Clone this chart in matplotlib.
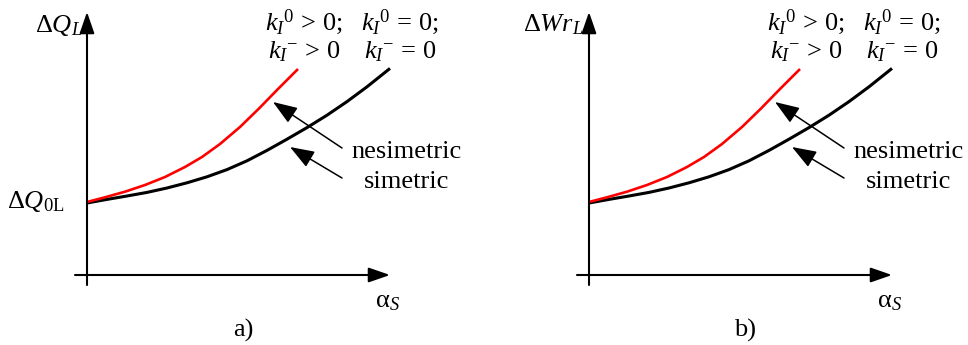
import matplotlib
matplotlib.use("Agg")
import matplotlib.pyplot as plt

plt.rcParams['font.family'] = ['Liberation Serif', 'DejaVu Serif']
plt.rcParams['mathtext.fontset'] = 'custom'
plt.rcParams['mathtext.rm'] = 'Liberation Serif'
plt.rcParams['mathtext.it'] = 'Liberation Serif:italic'
plt.rcParams['mathtext.bf'] = 'Liberation Serif:bold'

# curve shapes (origin = axes crossing, y up)
red_x = [0, 18, 38, 58, 78, 98, 115, 133, 153, 172, 191, 211]
red_y = [73, 77.7, 83.3, 90, 98, 108, 118, 131, 148, 166.5, 186, 206]
black_x = [0, 20, 40, 60, 80, 100, 120, 140, 160, 180, 200, 220, 240, 260, 280, 303]
black_y = [72, 75.6, 79, 82.6, 87, 92.2, 98.2, 105.4, 114.2, 124.6, 135.8, 147.4,
           159.8, 173.4, 188.2, 206.6]

panels = ['a)', 'b)']
ylabels = [r'$\Delta Q_L$', r'$\Delta Wr_L$']
intercept_labels = [r'$\Delta Q_{\mathrm{0L}}$', '']
cond_left = [r'$k_I{}^0\,>\,0$;', r'$k_I{}^{-}\,>\,0$']
cond_right = [r'$k_I{}^0\,=\,0$;', r'$k_I{}^{-}\,=\,0$']

FS = 19
LW_AX = 1.5


def arrow(ax, start, end, lw, hl, hw):
    ax.annotate('', xy=end, xytext=start,
                arrowprops=dict(arrowstyle=f'-|>,head_length={hl},head_width={hw}',
                                lw=lw, color='black', shrinkA=0, shrinkB=0,
                                mutation_scale=10))


fig = plt.figure(figsize=(9.68, 3.45), dpi=100)
lefts = [0, 502]
for i, left in enumerate(lefts):
    ax = fig.add_axes([left / 968, 0, 484 / 968, 1])
    ax.set_xlim(-87, 397)
    ax.set_ylim(-70, 275)
    ax.axis('off')

    # axes with arrow heads
    arrow(ax, (0, -10), (0, 263), LW_AX, 1.3, 0.45)
    arrow(ax, (-12, 0), (303, 0), LW_AX, 1.3, 0.45)

    ax.plot(black_x, black_y, color='black', lw=2.2, solid_capstyle='butt')
    ax.plot(red_x, red_y, color='#ff0000', lw=1.9, solid_capstyle='butt')

    # pointer arrows
    arrow(ax, (255, 127), (186, 173), 1.1, 1.5, 0.55)
    arrow(ax, (255, 97), (203, 128), 1.1, 1.5, 0.55)
    ax.text(320, 123, 'nesimetric', fontsize=FS, ha='center', va='center')
    ax.text(320, 93, 'simetric', fontsize=FS, ha='center', va='center')

    ax.text(217, 253, cond_left[0], fontsize=FS, ha='center', va='center')
    ax.text(217, 223, cond_left[1], fontsize=FS, ha='center', va='center')
    ax.text(313, 253, cond_right[0], fontsize=FS, ha='center', va='center')
    ax.text(313, 223, cond_right[1], fontsize=FS, ha='center', va='center')

    ax.text(-5, 250, ylabels[i], fontsize=FS, ha='right', va='center')
    if intercept_labels[i]:
        ax.text(-23, 73, intercept_labels[i], fontsize=FS, ha='right', va='center')
    ax.text(300, -27, r'$\mathrm{\alpha}_S$', fontsize=FS, ha='center', va='center')
    ax.text(156, -55, panels[i], fontsize=FS, ha='center', va='center')

fig.savefig('out.png', dpi=100)
